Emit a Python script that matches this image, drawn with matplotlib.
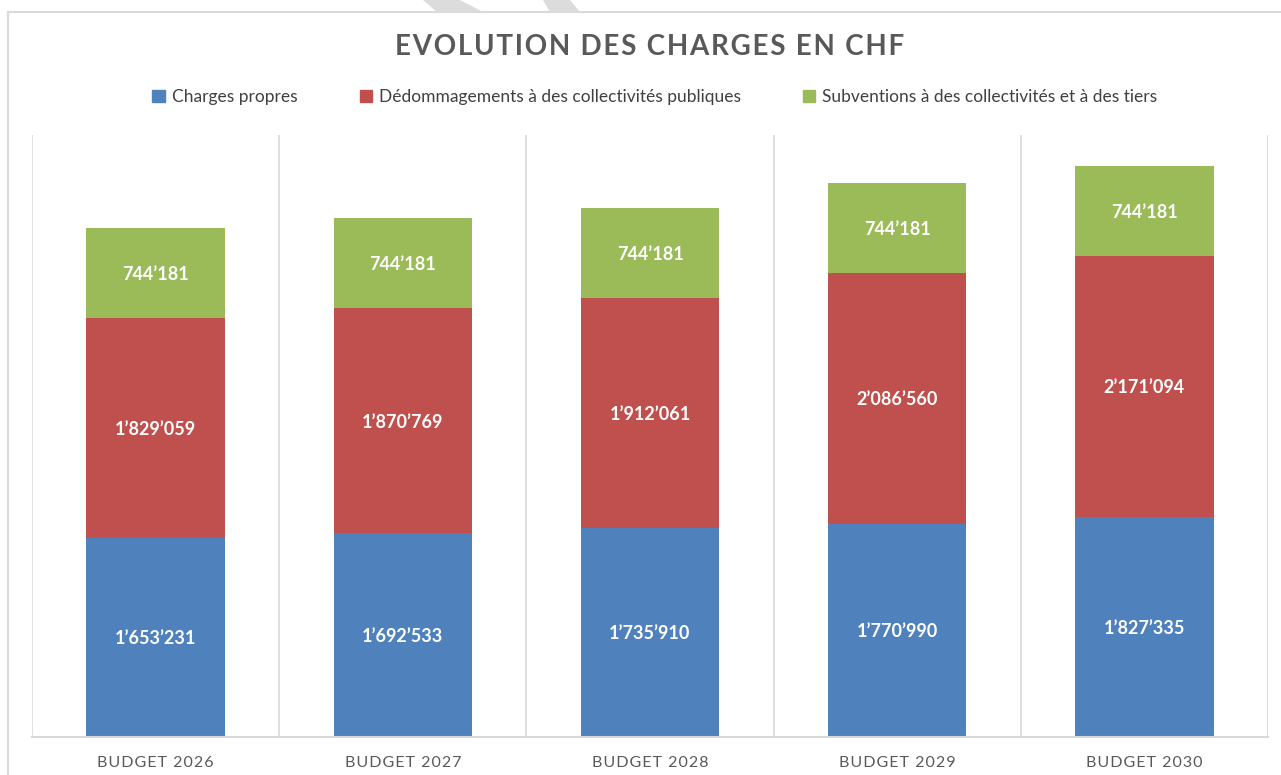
import matplotlib.pyplot as plt
import matplotlib.patches as mpatches
import numpy as np

plt.rcParams['font.family'] = ['Lato', 'DejaVu Sans']

# data
categories = ['BUDGET 2026', 'BUDGET 2027', 'BUDGET 2028', 'BUDGET 2029', 'BUDGET 2030']
charges_propres = [1653231, 1692533, 1735910, 1770990, 1827335]
dedommagements = [1829059, 1870769, 1912061, 2086560, 2171094]
subventions = [744181, 744181, 744181, 744181, 744181]
series_names = ['Charges propres',
                'Dédommagements à des collectivités publiques',
                'Subventions à des collectivités et à des tiers']
colors = ['#4F81BD', '#C0504D', '#9BBB59']


def fmt(v):
    return f"{v:,}".replace(',', '\u2019')


def spaced(s):
    return '\u200a'.join(s)


fig = plt.figure(figsize=(12.81, 7.75), dpi=100)
W, H = 1281, 775

# outer chart border (extends past right/bottom edge of screenshot)
fig.patches.append(mpatches.Rectangle((8 / W, -0.05), 1.2, 1 - 12 / H + 0.05,
                                      transform=fig.transFigure, fill=False,
                                      edgecolor='#D9D9D9', linewidth=1.5))

# faint diagonal watermark bands peeking above the chart
for pts in [[(423, 0), (460, 0), (483, 12), (437, 12)],
            [(543, 0), (570, 0), (580, 12), (550, 12)]]:
    fig.patches.append(mpatches.Polygon([(px / W, 1 - py / H) for px, py in pts],
                                        closed=True, transform=fig.transFigure,
                                        facecolor='#DCDCDC', edgecolor='none'))

ax = fig.add_axes([32 / W, 1 - 737 / H, (1268 - 32) / W, (737 - 135) / H])

x = np.arange(len(categories))
width = 0.56
bottom = np.zeros(len(categories))
for vals, col in zip([charges_propres, dedommagements, subventions], colors):
    bars = ax.bar(x, vals, width, bottom=bottom, color=col, zorder=2)
    for b, v, btm in zip(bars, vals, bottom):
        ax.text(b.get_x() + b.get_width() / 2, btm + v / 2, fmt(v),
                ha='center', va='center_baseline', color='white', fontsize=13,
                fontweight='bold', zorder=3)
    bottom += np.array(vals)

ax.set_xlim(-0.5, len(categories) - 0.5)
ax.set_ylim(0, 5000000)

# vertical separators between categories
for b in np.arange(-0.5, len(categories), 1.0):
    ax.axvline(b, color='#D9D9D9', linewidth=1.2, zorder=1)

for s in ['top', 'right', 'left']:
    ax.spines[s].set_visible(False)
ax.spines['bottom'].set_color('#D9D9D9')
ax.spines['bottom'].set_linewidth(1.5)
ax.set_yticks([])
ax.set_xticks(x)
ax.set_xticklabels([spaced(c) for c in categories], fontsize=11.5, color='#595959')
ax.tick_params(axis='x', length=0, pad=14)

fig.text(650 / W, 1 - 47 / H, spaced('EVOLUTION DES CHARGES EN CHF'), ha='center', va='center',
         fontsize=20, fontweight='bold', color='#595959')

handles = [mpatches.Patch(color=c) for c in colors]
fig.legend(handles, series_names, loc='center', bbox_to_anchor=(655 / W, 1 - 97 / H),
           ncol=3, frameon=False, fontsize=12.5, handlelength=0.7, handleheight=0.7,
           handletextpad=0.4, columnspacing=3.6, labelcolor='#404040')

fig.savefig('out.png', dpi=100)
